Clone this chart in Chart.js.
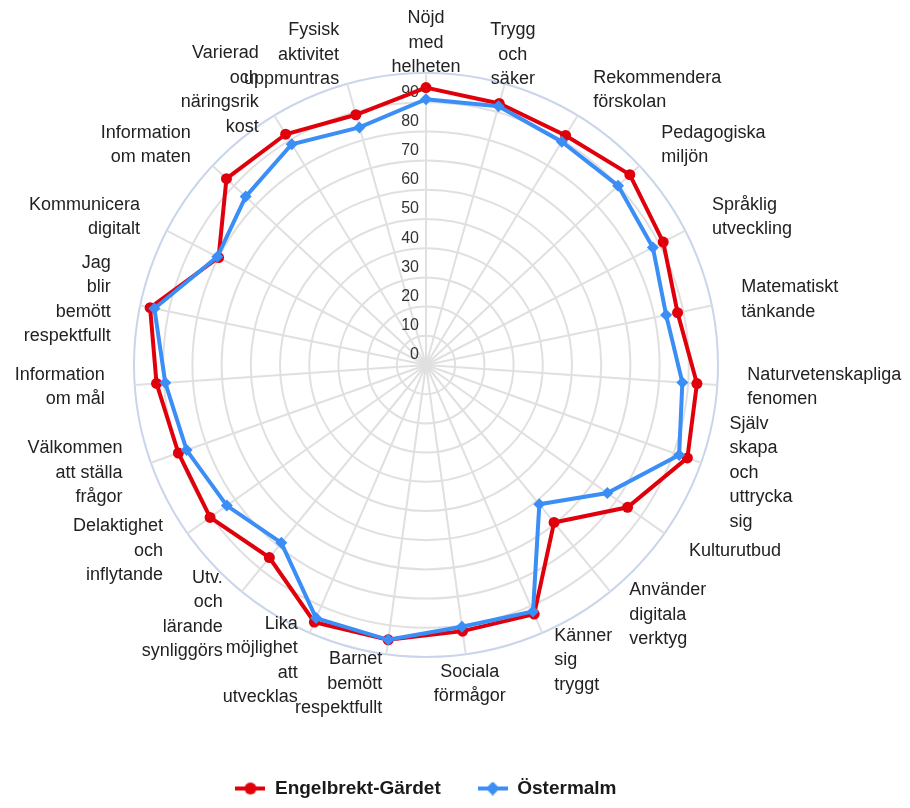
<!DOCTYPE html>
<html>
<head>
<meta charset="utf-8">
<script src="https://cdn.jsdelivr.net/npm/chart.js@4.4.0/dist/chart.umd.min.js"></script>
<style>
  html, body { margin: 0; padding: 0; background: #fff; }
  #wrap { width: 910px; height: 808px; }
</style>
</head>
<body>
<div id="wrap"><canvas id="chart"></canvas></div>
<script>
// kategorier, medurs från toppen
const categories = [
    ['Nöjd', 'med', 'helheten'],
    ['Trygg', 'och', 'säker'],
    ['Rekommendera', 'förskolan'],
    ['Pedagogiska', 'miljön'],
    ['Språklig', 'utveckling'],
    ['Matematiskt', 'tänkande'],
    ['Naturvetenskapliga', 'fenomen'],
    ['Själv', 'skapa', 'och', 'uttrycka', 'sig'],
    ['Kulturutbud'],
    ['Använder', 'digitala', 'verktyg'],
    ['Känner', 'sig', 'tryggt'],
    ['Sociala', 'förmågor'],
    ['Barnet', 'bemött', 'respektfullt'],
    ['Lika', 'möjlighet', 'att', 'utvecklas'],
    ['Utv.', 'och', 'lärande', 'synliggörs'],
    ['Delaktighet', 'och', 'inflytande'],
    ['Välkommen', 'att ställa', 'frågor'],
    ['Information', 'om mål'],
    ['Jag', 'blir', 'bemött', 'respektfullt'],
    ['Kommunicera', 'digitalt'],
    ['Information', 'om maten'],
    ['Varierad', 'och', 'näringsrik', 'kost'],
    ['Fysisk', 'aktivitet', 'uppmuntras']
];

const engelbrektGardet = [95, 93, 92, 95.5, 91.5, 88, 93, 95, 84.5, 69.5, 93, 92, 95, 96, 85, 90.5, 90, 92.5, 96.5, 80, 93.5, 92.5, 89];
const ostermalm = [91, 92, 89.5, 90, 87.5, 84, 88, 92, 76, 61.5, 92, 90.5, 95, 94.5, 78.5, 83.5, 87, 89.5, 95, 80.5, 84.5, 88.5, 84.5];

const tickLabels = ['0', '10', '20', '30', '40', '50', '60', '70', '80', '90'];

const RED = '#e0000b';
const BLUE = '#3a8ef6';
const LABEL_FONT = '18px "Liberation Sans", Arial, sans-serif';
const TICK_FONT = '16px "Liberation Sans", Arial, sans-serif';

// liten bild med linje + markör till legenden
function legendMarker(color, style) {
    const c = document.createElement('canvas');
    c.width = 30;
    c.height = 14;
    const g = c.getContext('2d');
    g.strokeStyle = color;
    g.lineWidth = 4;
    g.beginPath();
    g.moveTo(0, 7);
    g.lineTo(30, 7);
    g.stroke();
    g.fillStyle = color;
    g.beginPath();
    if (style === 'circle') {
        g.arc(15, 7, 6, 0, Math.PI * 2);
    } else {
        g.moveTo(15, 0);
        g.lineTo(22, 7);
        g.lineTo(15, 14);
        g.lineTo(8, 7);
        g.closePath();
    }
    g.fill();
    return c;
}

// Excel-liknande etiketter: vertikalt centrerade runt punkten
const excelLabels = {
    id: 'excelLabels',
    beforeDatasetsDraw(chart) {
        const scale = chart.scales.r;
        const ctx = chart.ctx;
        ctx.save();

        // skalans siffror, till vänster om lodräta axeln
        ctx.font = TICK_FONT;
        ctx.fillStyle = '#333333';
        ctx.textAlign = 'right';
        ctx.textBaseline = 'middle';
        tickLabels.forEach((t) => {
            const d = scale.getDistanceFromCenterForValue(Number(t));
            ctx.fillText(t, scale.xCenter - 7, scale.yCenter - d - 10);
        });

        // kategorinamn
        ctx.font = LABEL_FONT;
        ctx.fillStyle = '#222222';
        const lineH = 24.5;
        chart.data.labels.forEach((lines, i) => {
            const angle = scale.getIndexAngle(i);
            const pos = scale.getPointPosition(i, scale.drawingArea + 30);
            const s = Math.sin(angle);
            ctx.textAlign = s < -0.05 ? 'right' : (s < 0.3 ? 'center' : 'left');
            let y = pos.y - (lines.length * lineH) / 2 + lineH / 2;
            lines.forEach((line) => {
                ctx.fillText(line, pos.x, y);
                y += lineH;
            });
        });
        ctx.restore();
    }
};

new Chart(document.getElementById('chart'), {
    type: 'radar',
    data: {
        labels: categories,
        datasets: [
            {
                label: 'Engelbrekt-Gärdet',
                data: engelbrektGardet,
                borderColor: RED,
                backgroundColor: RED,
                borderWidth: 4,
                pointStyle: 'circle',
                pointRadius: 5.5,
                pointBorderWidth: 0,
                pointBackgroundColor: RED,
                fill: false,
                order: 2
            },
            {
                label: 'Östermalm',
                data: ostermalm,
                borderColor: BLUE,
                backgroundColor: BLUE,
                borderWidth: 4,
                pointStyle: 'rectRot',
                pointRadius: 6,
                pointBorderWidth: 0,
                pointBackgroundColor: BLUE,
                fill: false,
                order: 1
            }
        ]
    },
    options: {
        responsive: true,
        maintainAspectRatio: false,
        animation: false,
        layout: {
            padding: { left: 134, right: 192, top: 0, bottom: 0 }
        },
        scales: {
            r: {
                min: 0,
                max: 100,
                ticks: { stepSize: 10, display: false },
                pointLabels: { display: false },
                grid: {
                    circular: true,
                    lineWidth: 2,
                    color: (c) => (c.tick && c.tick.value === 100 ? '#c9d5ea' : '#e0e0e0')
                },
                angleLines: { color: '#e0e0e0', lineWidth: 2 }
            }
        },
        plugins: {
            tooltip: { enabled: false },
            legend: {
                position: 'bottom',
                title: { display: true, text: '', font: { size: 10, lineHeight: 1.2 }, padding: 0 },
                labels: {
                    usePointStyle: true,
                    pointStyleWidth: 30,
                    padding: 37,
                    color: '#1a1a1a',
                    font: { family: '"Liberation Sans", Arial, sans-serif', size: 19, weight: 'bold' },
                    generateLabels: (chart) => chart.data.datasets.map((ds, i) => ({
                        text: ds.label,
                        datasetIndex: i,
                        hidden: false,
                        fillStyle: ds.borderColor,
                        strokeStyle: ds.borderColor,
                        lineWidth: 0,
                        fontColor: '#1a1a1a',
                        pointStyle: legendMarker(ds.borderColor, ds.pointStyle)
                    }))
                }
            }
        }
    },
    plugins: [excelLabels]
});
</script>
</body>
</html>
